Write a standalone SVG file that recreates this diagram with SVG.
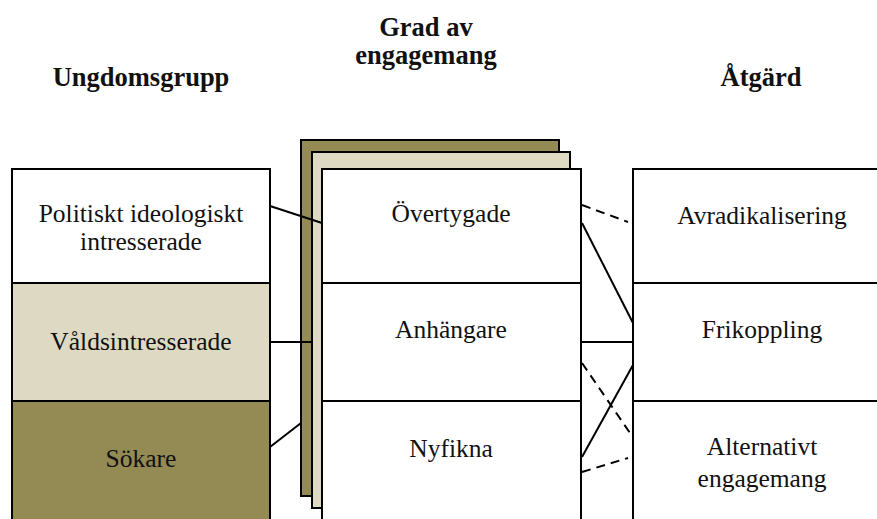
<svg xmlns="http://www.w3.org/2000/svg" width="877" height="519" viewBox="0 0 877 519">
  <style>
    .box { stroke: #000; stroke-width: 2; }
    .white { fill: #fff; }
    .light { fill: #DDD9C3; }
    .dark { fill: #948A54; }
    .lbl { font-family: "Liberation Serif", "Times New Roman", serif; font-size: 25.5px; fill: #111; text-anchor: middle; }
    .hdr { font-family: "Liberation Serif", "Times New Roman", serif; font-size: 26.5px; font-weight: bold; fill: #111; text-anchor: middle; }
    .conn { stroke: #000; stroke-width: 2; fill: none; }
    .dash { stroke-dasharray: 9 6; }
  </style>
  <rect width="877" height="519" fill="#fff"/>

  <!-- column headings -->
  <g id="headings">
    <text class="hdr" x="141" y="86">Ungdomsgrupp</text>
    <text class="hdr" x="426" y="36">Grad av</text>
    <text class="hdr" x="426" y="64">engagemang</text>
    <text class="hdr" x="761" y="86">Åtgärd</text>
  </g>

  <!-- youth groups -->
  <g id="group-politiskt">
    <rect class="box white" x="12" y="169" width="258" height="114"/>
    <text class="lbl" x="141" y="222">Politiskt ideologiskt</text>
    <text class="lbl" x="141" y="250">intresserade</text>
  </g>
  <g id="group-valdsintresserade">
    <rect class="box light" x="12" y="283" width="258" height="118"/>
    <text class="lbl" x="141" y="350">Våldsintresserade</text>
  </g>
  <g id="group-sokare">
    <rect class="box dark" x="12" y="401" width="258" height="130"/>
    <text class="lbl" x="141" y="467">Sökare</text>
  </g>

  <!-- stacked sheets behind the engagement column -->
  <g id="stack">
    <rect class="box dark" x="301" y="140" width="258" height="356"/>
    <rect class="box light" x="312" y="152" width="258" height="356"/>
  </g>

  <!-- degree of engagement -->
  <g id="level-overtygade">
    <rect class="box white" x="322" y="169" width="259" height="114"/>
    <text class="lbl" x="451" y="222">Övertygade</text>
  </g>
  <g id="level-anhangare">
    <rect class="box white" x="322" y="283" width="259" height="118"/>
    <text class="lbl" x="451" y="338">Anhängare</text>
  </g>
  <g id="level-nyfikna">
    <rect class="box white" x="322" y="401" width="259" height="130"/>
    <text class="lbl" x="451" y="457">Nyfikna</text>
  </g>

  <!-- measures -->
  <g id="measure-avradikalisering">
    <rect class="box white" x="633" y="169" width="258" height="114"/>
    <text class="lbl" x="762" y="224">Avradikalisering</text>
  </g>
  <g id="measure-frikoppling">
    <rect class="box white" x="633" y="283" width="258" height="118"/>
    <text class="lbl" x="762" y="338">Frikoppling</text>
  </g>
  <g id="measure-alternativt">
    <rect class="box white" x="633" y="401" width="258" height="130"/>
    <text class="lbl" x="762" y="455">Alternativt</text>
    <text class="lbl" x="762" y="487">engagemang</text>
  </g>

  <!-- connectors -->
  <g id="connectors">
    <line class="conn" x1="270" y1="206" x2="322" y2="223"/>
    <line class="conn" x1="270" y1="342" x2="312" y2="342"/>
    <line class="conn" x1="270" y1="447" x2="301" y2="423"/>

    <line class="conn dash" x1="582" y1="205" x2="628" y2="222"/>
    <line class="conn" x1="582" y1="223" x2="633" y2="323"/>
    <line class="conn" x1="581" y1="342" x2="633" y2="342"/>
    <line class="conn dash" x1="582" y1="363" x2="630" y2="433"/>
    <line class="conn" x1="582" y1="457" x2="633" y2="365"/>
    <line class="conn dash" x1="582" y1="472" x2="628" y2="458"/>
  </g>
</svg>
